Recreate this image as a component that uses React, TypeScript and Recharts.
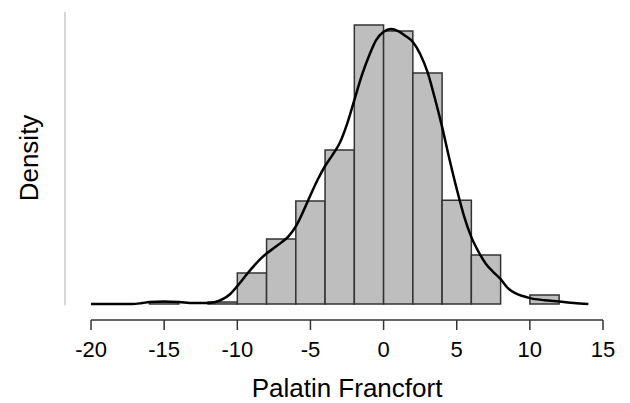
import React from 'react';
import { ComposedChart, Line, XAxis, YAxis, ReferenceArea, ReferenceLine } from 'recharts';

// histogram bins (width 2), density per bin
const binStarts = [-16, -14, -12, -10, -8, -6, -4, -2, 0, 2, 4, 6, 8, 10];
const binDensity = [0.0008, 0, 0.0008, 0.0119, 0.025, 0.0396, 0.0591, 0.1071, 0.1048, 0.0887, 0.0399, 0.0188, 0, 0.0035];
const binWidth = 2;

// kernel density estimate
const curveX = [
  -20, -18, -17.2, -16.5, -16, -15, -14, -13, -12, -11.5, -11, -10.5, -10, -9.5, -9, -8.5, -8, -7.5, -7, -6.5,
  -6, -5.5, -5, -4.5, -4, -3.5, -3, -2.5, -2, -1.5, -1, -0.5, 0, 0.5, 1, 1.5, 2, 2.5, 3, 3.5,
  4, 4.5, 5, 5.5, 6, 6.5, 7, 7.5, 8, 8.5, 9, 9.5, 10, 11, 12, 13, 14,
];
const curveDensity = [
  0, 0, 0, 0.0004, 0.0008, 0.001, 0.0008, 0.0004, 0.0004, 0.0008, 0.0019, 0.0038, 0.0069, 0.0104, 0.0138, 0.0169, 0.0194, 0.0215, 0.0236, 0.026,
  0.0298, 0.0355, 0.0418, 0.0478, 0.053, 0.0572, 0.0618, 0.0691, 0.0783, 0.0876, 0.0952, 0.1014, 0.1045, 0.1056, 0.1048, 0.1029, 0.1006, 0.096, 0.0891, 0.0791,
  0.068, 0.0557, 0.0442, 0.0338, 0.0257, 0.02, 0.0154, 0.0123, 0.0096, 0.0061, 0.0042, 0.0031, 0.0023, 0.0015, 0.001, 0.0004, 0,
];

const xTicks = [-20, -15, -10, -5, 0, 5, 10, 15];

const X_MIN = -21.78;
const X_MAX = 15;
const Y_MIN = -0.0061;
const Y_MAX = 0.1121;

const font = '"Liberation Sans", Arial, Helvetica, sans-serif';

const curveData = curveX.map((x, i) => ({ x, density: curveDensity[i] }));

const App = () => {
  return (
    <div style={{ position: 'absolute', left: 0, top: 0, width: 630, height: 403, background: '#fff' }}>
      <ComposedChart
        width={630}
        height={403}
        data={curveData}
        margin={{ top: 12, right: 27, bottom: 0, left: 0 }}
      >
        <XAxis
          dataKey="x"
          type="number"
          domain={[X_MIN, X_MAX]}
          allowDataOverflow
          ticks={xTicks}
          interval={0}
          height={83}
          axisLine={false}
          tickSize={10}
          tickMargin={11}
          tickLine={{ stroke: '#333', strokeWidth: 1.5 }}
          tick={{ fill: '#000', fontSize: 22, fontFamily: font }}
          label={{
            content: () => (
              <text x={347} y={397} textAnchor="middle" fontSize={26} fontFamily={font} fill="#000">
                Palatin Francfort
              </text>
            ),
          }}
        />
        <YAxis
          type="number"
          domain={[Y_MIN, Y_MAX]}
          allowDataOverflow
          width={65}
          axisLine={false}
          tickLine={false}
          tick={false}
          label={{
            content: () => (
              <text
                x={38}
                y={158}
                textAnchor="middle"
                fontSize={26}
                fontFamily={font}
                fill="#000"
                transform="rotate(-90, 38, 158)"
              >
                Density
              </text>
            ),
          }}
        />
        <ReferenceLine
          segment={[{ x: X_MIN, y: -0.0004 }, { x: X_MIN, y: Y_MAX }]}
          stroke="#c8c8c8"
          strokeWidth={1.5}
          ifOverflow="visible"
        />
        <ReferenceLine
          segment={[{ x: -20, y: Y_MIN }, { x: 15, y: Y_MIN }]}
          stroke="#333"
          strokeWidth={1.5}
          ifOverflow="visible"
        />
        {binStarts.map((start, i) =>
          binDensity[i] > 0 ? (
            <ReferenceArea
              key={`bin-${start}`}
              x1={start}
              x2={start + binWidth}
              y1={0}
              y2={binDensity[i]}
              fill="#bebebe"
              fillOpacity={1}
              stroke="#333"
              strokeWidth={1.5}
              ifOverflow="visible"
            />
          ) : null
        )}
        <Line
          type="monotone"
          dataKey="density"
          stroke="#000"
          strokeWidth={2.5}
          dot={false}
          activeDot={false}
          isAnimationActive={false}
        />
      </ComposedChart>
    </div>
  );
};

export default App;
